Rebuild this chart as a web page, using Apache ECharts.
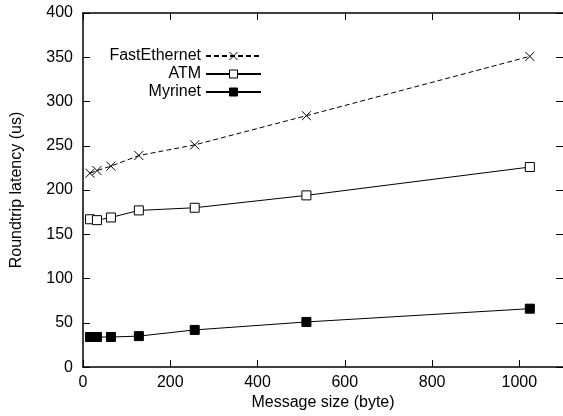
<!DOCTYPE html>
<html>
<head>
<meta charset="utf-8">
<script src="https://cdn.jsdelivr.net/npm/echarts@6/dist/echarts.min.js"></script>
<style>
  html, body { margin: 0; padding: 0; background: #fff; }
  #chart { width: 563px; height: 416px; }
</style>
</head>
<body>
<div id="chart"></div>
<script>
// message sizes (bytes)
const sizes = [16, 32, 64, 128, 256, 512, 1024];
const fastEthernet = [219, 222, 227, 239, 251, 284, 351];
const atm = [167, 166, 169, 177, 180, 194, 226];
const myrinet = [34, 34, 34, 35, 42, 51, 66];
const xTicks = [0, 200, 400, 600, 800, 1000];
const yTicks = [0, 50, 100, 150, 200, 250, 300, 350, 400];

const font = 'Liberation Sans, Arial, sans-serif';
const pair = (vals) => vals.map((v, i) => [sizes[i], v]);

const chart = echarts.init(document.getElementById('chart'));

const axisLine = { show: true, onZero: false, lineStyle: { color: '#000', width: 1.5 } };
const tickStyle = { color: '#000', width: 1 };
const xTick = { show: true, inside: true, length: 7, customValues: xTicks, lineStyle: tickStyle };
const yTick = { show: true, inside: true, length: 7, customValues: yTicks, lineStyle: tickStyle };

const option = {
  animation: false,
  backgroundColor: '#fff',
  grid: { left: 83, right: -4, top: 13, bottom: 46 },
  legend: {
    orient: 'vertical',
    right: 301,
    top: 48,
    padding: 0,
    align: 'right',
    itemWidth: 55,
    itemHeight: 10,
    itemGap: 2,
    itemStyle: { borderWidth: 1 },
    textStyle: { fontFamily: font, fontSize: 16, color: '#000' },
    data: ['FastEthernet', 'ATM', 'Myrinet'],
  },
  xAxis: [
    {
      type: 'value',
      min: 0,
      max: 1100,
      name: 'Message size (byte)',
      nameLocation: 'middle',
      nameGap: 24,
      nameTextStyle: { fontFamily: font, fontSize: 16, color: '#000' },
      axisLine: axisLine,
      axisTick: xTick,
      splitLine: { show: false },
      axisLabel: {
        margin: 7,
        fontFamily: font,
        fontSize: 16,
        color: '#000',
        customValues: xTicks,
        formatter: (v) => String(v),
      },
    },
    {
      type: 'value',
      position: 'top',
      min: 0,
      max: 1100,
      axisLine: axisLine,
      axisTick: xTick,
      axisLabel: { show: false },
      splitLine: { show: false },
    },
  ],
  yAxis: [
    {
      type: 'value',
      min: 0,
      max: 400,
      name: 'Roundtrip latency (us)',
      nameLocation: 'middle',
      nameGap: 58,
      nameTextStyle: { fontFamily: font, fontSize: 16, color: '#000' },
      axisLine: axisLine,
      axisTick: yTick,
      splitLine: { show: false },
      axisLabel: {
        margin: 10,
        fontFamily: font,
        fontSize: 16,
        color: '#000',
        customValues: yTicks,
        formatter: (v) => String(v),
      },
    },
    {
      type: 'value',
      position: 'right',
      min: 0,
      max: 400,
      axisLine: { show: false, onZero: false },
      axisTick: yTick,
      axisLabel: { show: false },
      splitLine: { show: false },
    },
  ],
  series: [
    {
      name: 'FastEthernet',
      type: 'line',
      data: pair(fastEthernet),
      symbol: 'path://M0,0L10,10M10,0L0,10',
      symbolSize: 9,
      lineStyle: { color: '#000', width: 1, type: [5, 3] },
      itemStyle: { color: '#000', borderColor: '#000', borderWidth: 1 },
    },
    {
      name: 'ATM',
      type: 'line',
      data: pair(atm),
      symbol: 'rect',
      symbolSize: 9,
      lineStyle: { color: '#000', width: 1 },
      itemStyle: { color: '#fff', borderColor: '#000', borderWidth: 1 },
    },
    {
      name: 'Myrinet',
      type: 'line',
      data: pair(myrinet),
      symbol: 'rect',
      symbolSize: 9,
      lineStyle: { color: '#000', width: 1 },
      itemStyle: { color: '#000', borderColor: '#000', borderWidth: 1 },
    },
  ],
};

chart.setOption(option);
</script>
</body>
</html>
